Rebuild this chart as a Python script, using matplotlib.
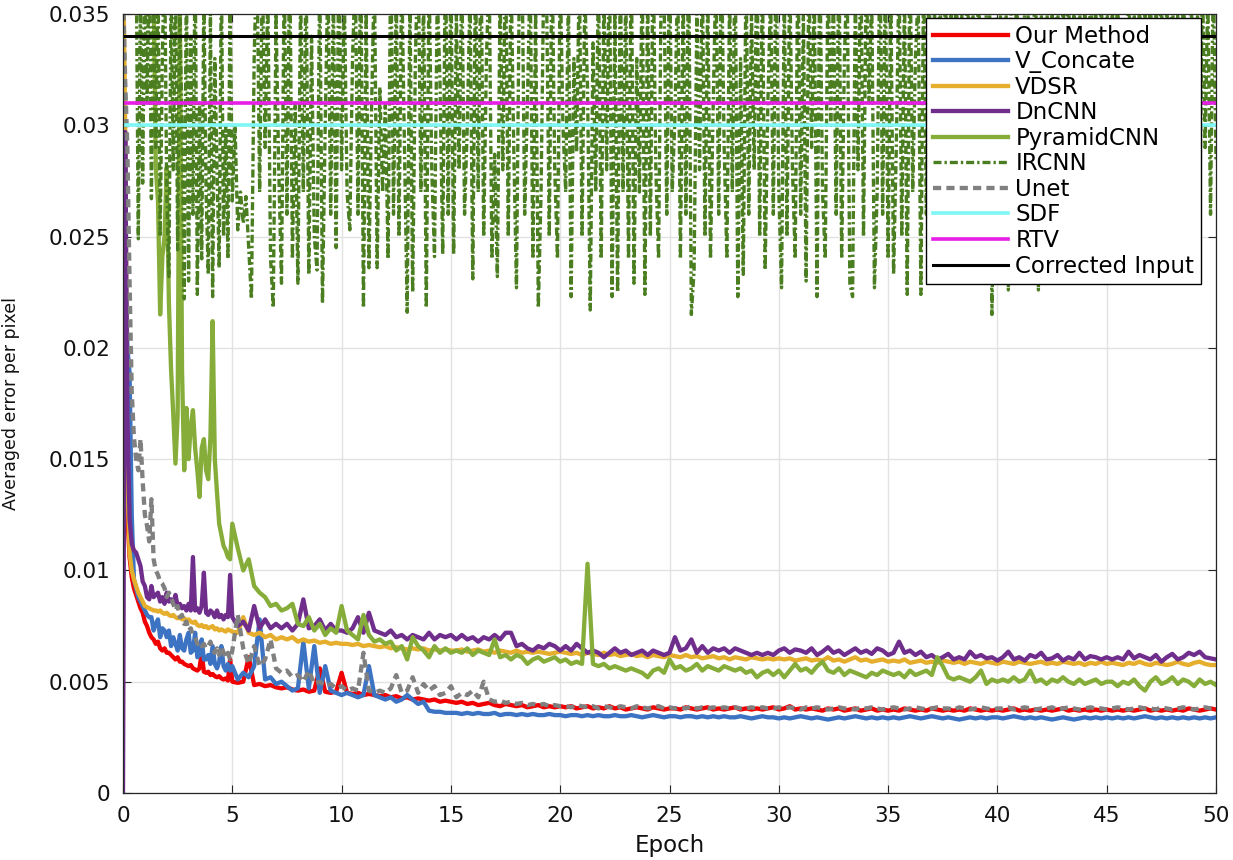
import numpy as np
import matplotlib
matplotlib.use("Agg")
import matplotlib.pyplot as plt

plt.rcParams['font.family'] = ['DejaVu Sans']

# ---------------- data ----------------
# epochs: fine sampling for the first 5 epochs, then every quarter epoch
epoch_fine = np.round(np.arange(0.0, 5.0001, 0.1), 2)
epoch_coarse = np.round(np.arange(5.25, 50.0001, 0.25), 2)
epochs = np.concatenate([epoch_fine, epoch_coarse])
# IRCNN is sampled more densely after epoch 5 (every eighth of an epoch)
ircnn_epochs = np.concatenate([epoch_fine, np.round(np.arange(5.125, 50.0001, 0.125), 3)])

# all error values below are given in units of 1e-3
UNIT = 1e-3

our_early = [28, 18, 12.5, 10.6, 9.7, 9.2, 8.9, 8.6, 8.3, 8.1,
             7.7, 7.5, 7.2, 7.0, 6.9, 6.7, 6.8, 6.5, 6.4, 6.5,
             6.3, 6.3, 6.2, 6.1, 6.0, 6.1, 5.9, 5.9, 5.8, 5.75,
             5.7, 5.75, 5.6, 5.55, 5.5, 5.6, 6.3, 5.45, 5.4, 5.45,
             5.3, 5.35, 5.25, 5.2, 5.25, 5.15, 5.1, 5.15, 5.05, 6.0,
             5.0]
our_late = [4.95, 5.0, 6.1, 4.85, 4.9, 4.8, 4.85, 4.75, 4.7, 4.75, 4.65, 4.6, 4.65, 4.55, 4.6, 5.6, 4.55, 4.5, 4.55, 5.4,
            4.5, 4.45, 4.5, 4.4, 4.45, 4.4, 4.35, 4.4, 4.3, 4.35, 4.25, 4.3, 4.2, 4.25, 4.2, 4.15, 4.2, 4.1, 4.15, 4.1,
            4.05, 4.1, 4.0, 4.05, 3.95, 4.0, 4.05, 3.95, 3.9, 4.0, 3.95, 3.9, 3.95, 3.85, 3.9, 3.95, 3.85, 3.9, 3.85, 3.9,
            3.85, 3.9, 3.8, 3.85, 3.9, 3.8, 3.85, 3.8, 3.9, 3.8, 3.85, 3.75, 3.8, 3.85, 3.8, 3.75, 3.85, 3.8, 3.75, 3.8,
            3.8, 3.75, 3.85, 3.8, 3.75, 3.8, 3.85, 3.75, 3.8, 3.75, 3.8, 3.85, 3.75, 3.8, 3.75, 3.8, 3.75, 3.8, 3.85, 3.75,
            3.8, 3.9, 3.75, 3.8, 3.75, 3.8, 3.75, 3.7, 3.8, 3.75, 3.8, 3.7, 3.75, 3.8, 3.7, 3.75, 3.8, 3.7, 3.75, 3.7,
            3.75, 3.7, 3.8, 3.75, 3.7, 3.75, 3.7, 3.8, 3.75, 3.7, 3.75, 3.7, 3.75, 3.7, 3.8, 3.75, 3.7, 3.75, 3.7, 3.75,
            3.7, 3.75, 3.8, 3.7, 3.75, 3.7, 3.75, 3.7, 3.75, 3.7, 3.75, 3.8, 3.7, 3.75, 3.7, 3.75, 3.7, 3.75, 3.7, 3.75,
            3.7, 3.75, 3.7, 3.75, 3.7, 3.75, 3.8, 3.7, 3.75, 3.7, 3.75, 3.7, 3.75, 3.7, 3.8, 3.75, 3.7, 3.75, 3.8, 3.75]

vconcate_early = [30, 24, 20, 18.9, 12.5, 9.6, 9.2, 8.8, 8.6, 8.4,
                  8.2, 8.0, 7.9, 7.9, 7.3, 7.6, 7.8, 7.0, 7.4, 7.3,
                  7.0, 7.3, 6.6, 7.0, 6.7, 6.4, 7.1, 6.5, 6.4, 6.9,
                  7.2, 6.3, 6.4, 7.2, 6.1, 6.2, 6.9, 6.0, 6.0, 6.2,
                  5.8, 6.6, 5.8, 5.6, 5.9, 6.6, 5.7, 5.5, 5.8, 5.5,
                  5.7]
vconcate_late = [5.1, 5.4, 5.2, 5.7, 7.8, 5.1, 5.2, 4.9, 5.0, 4.8, 4.6, 4.7, 6.8, 4.7, 6.6, 4.5, 5.7, 4.6, 4.5, 4.4,
                 4.5, 4.4, 4.3, 4.4, 5.7, 4.4, 4.3, 4.2, 4.3, 4.1, 4.2, 4.4, 4.2, 4.0, 4.1, 3.7, 3.65, 3.65, 3.6, 3.6,
                 3.6, 3.55, 3.6, 3.55, 3.6, 3.55, 3.55, 3.6, 3.5, 3.55, 3.55, 3.5, 3.55, 3.5, 3.55, 3.5, 3.5, 3.55, 3.5, 3.5,
                 3.45, 3.5, 3.5, 3.45, 3.5, 3.45, 3.5, 3.45, 3.45, 3.5, 3.45, 3.45, 3.5, 3.45, 3.4, 3.45, 3.5, 3.45, 3.4, 3.45,
                 3.45, 3.4, 3.45, 3.45, 3.4, 3.45, 3.4, 3.45, 3.4, 3.45, 3.4, 3.4, 3.45, 3.4, 3.35, 3.4, 3.45, 3.4, 3.4, 3.35,
                 3.4, 3.35, 3.4, 3.45, 3.4, 3.35, 3.4, 3.35, 3.3, 3.35, 3.4, 3.35, 3.4, 3.45, 3.4, 3.35, 3.4, 3.35, 3.4, 3.35,
                 3.4, 3.35, 3.4, 3.45, 3.4, 3.35, 3.4, 3.45, 3.4, 3.35, 3.4, 3.35, 3.3, 3.35, 3.4, 3.35, 3.4, 3.35, 3.4, 3.4,
                 3.35, 3.4, 3.45, 3.4, 3.35, 3.4, 3.35, 3.4, 3.35, 3.3, 3.35, 3.4, 3.35, 3.3, 3.35, 3.4, 3.35, 3.4, 3.35, 3.4,
                 3.35, 3.4, 3.35, 3.4, 3.35, 3.4, 3.45, 3.4, 3.35, 3.4, 3.35, 3.4, 3.35, 3.4, 3.35, 3.4, 3.35, 3.4, 3.35, 3.4]

vdsr_early = [38, 30, 14, 10.8, 10.0, 9.6, 9.3, 9.0, 8.8, 8.6,
              8.4, 8.35, 8.3, 8.25, 8.2, 8.2, 8.15, 8.2, 8.1, 8.05,
              8.1, 8.0, 7.95, 8.0, 7.9, 7.85, 7.9, 7.8, 7.85, 7.75,
              7.8, 7.7, 7.65, 7.7, 7.55, 7.5, 7.55, 7.45, 7.5, 7.4,
              7.45, 7.5, 7.35, 7.4, 7.3, 7.35, 7.3, 7.25, 7.35, 7.3,
              7.25]
vdsr_late = [7.2, 7.9, 7.2, 7.1, 7.2, 7.0, 7.1, 6.9, 7.0, 6.9, 7.0, 6.8, 6.9, 6.8, 6.85, 6.75, 6.8, 6.7, 6.75, 6.7,
             6.7, 6.65, 6.7, 6.6, 6.65, 6.6, 6.55, 6.6, 6.5, 6.55, 6.5, 6.45, 6.5, 6.45, 6.5, 6.4, 6.45, 6.4, 6.45, 6.4,
             6.4, 6.45, 6.35, 6.4, 6.45, 6.35, 6.4, 6.3, 6.4, 6.35, 6.3, 6.4, 6.3, 6.35, 6.3, 6.35, 6.3, 6.25, 6.3, 6.35,
             6.3, 6.25, 6.3, 6.2, 6.3, 6.25, 6.2, 6.3, 6.2, 6.25, 6.15, 6.2, 6.25, 6.15, 6.2, 6.1, 6.2, 6.15, 6.1, 6.2,
             6.15, 6.1, 6.2, 6.1, 6.15, 6.05, 6.1, 6.15, 6.05, 6.1, 6.0, 6.1, 6.05, 6.0, 6.1, 6.05, 6.0, 6.05, 6.0, 6.05,
             6.0, 6.05, 5.95, 6.0, 6.05, 5.95, 6.0, 5.95, 6.1, 5.95, 6.0, 5.9, 6.0, 6.1, 5.95, 6.0, 5.9, 5.95, 6.0, 5.9,
             5.95, 5.9, 6.0, 5.85, 5.9, 5.95, 5.85, 5.9, 5.85, 5.95, 5.9, 5.85, 5.9, 5.8, 5.9, 5.85, 5.8, 5.9, 5.85, 5.8,
             5.9, 5.85, 5.8, 5.9, 5.85, 5.8, 5.85, 5.9, 5.8, 5.85, 5.8, 5.9, 5.85, 5.8, 5.85, 5.75, 5.85, 5.8, 5.9, 5.8,
             5.85, 5.8, 5.75, 5.85, 5.8, 5.9, 5.8, 5.75, 5.85, 5.8, 5.75, 5.8, 5.9, 5.8, 5.75, 5.85, 5.9, 5.8, 5.75, 5.75]

dncnn_early = [0.0, 29.7, 17, 12.3, 11.2, 10.9, 10.8, 10.5, 10.2, 9.5,
               9.3, 8.8, 8.7, 9.3, 8.8, 8.9, 9.0, 8.6, 8.8, 8.5,
               9.0, 8.6, 8.7, 8.5, 8.9, 8.4, 8.5, 8.3, 8.4, 8.2,
               8.5, 8.2, 10.6, 8.2, 8.3, 8.1, 8.4, 9.9, 8.1, 8.0,
               8.2, 8.1, 7.9, 8.2, 7.9, 8.0, 7.8, 8.0, 7.9, 9.8,
               7.9]
dncnn_late = [7.5, 7.7, 7.3, 8.4, 7.4, 7.8, 7.4, 7.6, 7.4, 7.6, 7.3, 7.6, 8.7, 7.4, 7.5, 7.8, 7.3, 7.6, 7.3, 7.3,
              7.2, 7.4, 7.9, 7.2, 8.1, 7.3, 7.2, 7.1, 7.3, 7.0, 7.1, 6.9, 7.1, 7.0, 6.9, 7.2, 6.9, 7.1, 7.0, 7.1,
              6.9, 7.1, 6.9, 7.0, 6.8, 7.0, 6.9, 7.1, 6.9, 7.2, 7.2, 6.6, 6.7, 6.5, 6.4, 6.6, 6.5, 6.7, 6.6, 6.4,
              6.6, 6.4, 6.7, 6.5, 6.3, 6.4, 6.3, 6.1, 6.3, 6.5, 6.3, 6.4, 6.2, 6.3, 6.4, 6.2, 6.4, 6.3, 6.2, 6.3,
              7.0, 6.4, 6.5, 6.9, 6.3, 6.6, 6.3, 6.5, 6.4, 6.5, 6.3, 6.5, 6.4, 6.3, 6.2, 6.3, 6.2, 6.3, 6.2, 6.4,
              6.5, 6.3, 6.45, 6.4, 6.3, 6.5, 6.2, 6.35, 6.55, 6.3, 6.4, 6.2, 6.35, 6.5, 6.3, 6.4, 6.25, 6.5, 6.4, 6.2,
              6.3, 6.8, 6.3, 6.4, 6.2, 6.35, 6.1, 6.2, 6.0, 6.1, 6.25, 6.0, 6.1, 6.0, 6.35, 6.1, 6.2, 6.05, 6.1, 5.95,
              6.1, 6.35, 6.0, 6.1, 5.95, 6.2, 6.1, 6.3, 6.0, 6.05, 6.2, 5.95, 6.1, 6.0, 6.3, 6.0, 6.15, 6.1, 6.0, 6.1,
              6.0, 6.1, 6.0, 6.35, 6.05, 6.2, 6.1, 6.0, 6.2, 5.9, 6.1, 6.25, 6.0, 6.1, 6.3, 6.2, 6.35, 6.1, 6.05, 6.0]

pyramid_early = [45, 44, 43, 42, 41, 40, 40, 39, 39, 38,
                 38, 37, 37, 36, 36, 28.1, 26.6, 21.5, 24.1, 25.0,
                 28.1, 22.0, 19.0, 17.0, 14.8, 17.0, 35.5, 19.0, 14.5, 17.3,
                 15.0, 16.5, 17.2, 15.5, 14.5, 13.3, 15.5, 15.9, 14.5, 14.1,
                 16.0, 21.2, 15.0, 13.5, 12.1, 11.6, 11.1, 10.9, 10.6, 10.5,
                 12.1]
pyramid_late = [11.0, 10.0, 10.5, 9.3, 9.0, 8.8, 8.4, 8.5, 8.2, 8.3, 8.5, 7.6, 7.5, 7.9, 7.3, 7.6, 7.1, 7.4, 7.2, 8.4,
                7.3, 7.1, 6.9, 8.0, 7.1, 6.8, 6.9, 6.7, 6.8, 6.4, 6.6, 6.0, 7.0, 6.6, 6.4, 6.1, 6.6, 6.3, 6.5, 6.3,
                6.4, 6.3, 6.5, 6.2, 6.4, 6.3, 6.2, 6.9, 6.1, 6.2, 6.0, 6.2, 6.1, 5.8, 6.0, 6.1, 5.9, 6.0, 6.1, 5.9,
                6.0, 5.8, 5.9, 5.8, 10.3, 5.8, 5.7, 5.8, 5.6, 5.7, 5.6, 5.5, 5.6, 5.5, 5.4, 5.2, 5.5, 5.6, 5.4, 6.0,
                5.6, 5.7, 5.5, 5.6, 5.8, 5.5, 5.7, 5.6, 5.5, 5.7, 5.6, 5.5, 5.6, 5.4, 5.5, 5.2, 5.4, 5.5, 5.3, 5.5,
                5.2, 5.5, 5.8, 5.5, 5.6, 5.4, 5.7, 5.9, 5.5, 5.4, 5.6, 5.3, 5.5, 5.4, 5.3, 5.2, 5.4, 5.3, 5.5, 5.4,
                5.3, 5.4, 5.2, 5.5, 5.3, 5.4, 5.5, 5.3, 6.1, 5.7, 5.2, 5.1, 5.2, 5.1, 5.0, 5.2, 5.5, 4.9, 5.1, 5.0,
                5.1, 5.0, 5.2, 5.0, 5.1, 5.5, 5.0, 5.1, 4.9, 5.1, 5.0, 5.2, 5.0, 4.9, 5.1, 4.9, 5.0, 5.1, 4.9, 5.0,
                5.0, 4.8, 5.0, 4.9, 5.1, 4.8, 4.6, 5.0, 5.2, 4.9, 5.0, 5.2, 4.9, 5.1, 5.0, 4.8, 5.1, 4.9, 5.0, 4.85]

ircnn_early = [40, 40, 40, 40, 40, 40, 38, 24.9, 36, 27.4,
               37, 31, 38, 26.7, 36, 29, 37, 25.0, 33, 38,
               27, 23.2, 36, 28, 37, 24.4, 35, 30, 22.2, 37,
               23.0, 34, 26, 38, 22.4, 31, 24, 36, 27, 23.3,
               35, 22.3, 33, 28, 23.6, 37, 25, 30, 24, 36,
               26.6]
ircnn_late = [30, 25.3, 27, 25.6, 26.8, 24.5, 22.2, 33, 38, 27, 37, 29, 36, 24, 21.8, 35, 28, 22.9, 37, 26,
              38, 24, 31, 22.9, 36, 27, 37, 23.3, 34, 25, 23.5, 37, 22.0, 30, 37, 26, 36, 24.5, 38, 28,
              36, 27, 25.3, 33, 37, 26, 38, 21.8, 35, 23.6, 31, 37, 23.6, 31.7, 27, 30.9, 24, 38, 26, 36,
              25, 37, 29, 21.6, 36, 22.5, 33, 38, 27, 36, 21.8, 37, 28, 24.1, 36, 32, 24.2, 38, 26, 37,
              24.2, 35, 28, 37, 26, 30, 36, 23.1, 37, 27, 38, 25, 33, 37, 24, 28.7, 23.2, 36, 28, 38,
              25, 37, 29, 22.7, 36, 38, 26, 31, 37, 24, 35, 21.8, 27, 37, 36, 25, 38, 28, 24, 37,
              30, 27, 36, 22.3, 33, 28.8, 37, 25, 36, 31.7, 21.7, 33.7, 27, 37, 24, 36, 28, 38, 22.3, 35,
              22.5, 37, 27, 36, 24, 38, 22.9, 33, 27, 37, 22.4, 36, 25, 38, 28, 24, 37, 36, 26, 38,
              27, 30.4, 37, 24, 36, 26, 38, 21.5, 23.5, 35, 28, 37, 25, 36, 24, 31, 37, 26, 38, 29,
              24, 36, 27, 38, 22.3, 33, 23.3, 37, 26, 35, 28, 38, 25, 37, 23.5, 31, 36, 26, 38, 27,
              22.7, 36, 25, 37, 28, 24, 38, 26, 35, 23, 37, 29, 36, 22.3, 38, 27, 24, 37, 30, 36,
              26, 38, 24, 33, 37, 22.9, 22.3, 36, 28, 38, 25, 37, 31, 36, 22.7, 27, 38, 26, 37, 24,
              36, 23.3, 29, 37, 25, 36, 22.4, 38, 27, 33, 36, 22.4, 37, 26, 38, 24, 35, 28, 37, 25,
              38, 24, 36, 30, 37, 26, 35, 23.5, 38, 28, 36, 25, 37, 31, 24, 36, 38, 21.5, 30, 37,
              36, 27, 38, 22.6, 35, 26, 37, 29, 24, 36, 38, 25, 33, 37, 22.6, 36, 27, 38, 24, 36,
              28, 37, 25, 36, 31, 38, 24, 35, 27, 37, 26, 36, 23, 38, 29, 36, 25, 37, 27, 38,
              24, 36, 29, 37, 26, 33, 23.7, 38, 27, 36, 23.8, 37, 25, 35, 28, 38, 24, 36, 31, 37,
              25, 36, 28, 38, 26, 35, 24, 37, 31, 22.8, 36, 27, 38, 25, 37, 29, 36, 26, 37, 28.4]

unet_early = [36, 32, 29, 23, 18, 16, 15, 14.5, 15.9, 14,
              12.5, 12.0, 11.3, 13.2, 10.5, 10.0, 9.8, 9.5, 9.4, 9.2,
              8.8, 9.0, 8.8, 8.5, 8.2, 8.4, 7.9, 8.0, 7.6, 7.7,
              7.3, 7.4, 7.1, 7.0, 6.7, 6.8, 6.6, 6.7, 6.5, 6.6,
              6.8, 6.4, 6.3, 6.5, 6.2, 6.6, 6.3, 6.1, 6.3, 6.0,
              6.4]
unet_late = [8.0, 6.5, 5.8, 6.6, 5.7, 6.0, 6.9, 5.6, 5.4, 5.5, 5.2, 5.3, 5.0, 5.5, 4.9, 5.0, 4.8, 4.9, 4.7, 4.8,
             4.6, 4.7, 4.6, 6.3, 4.6, 4.5, 4.6, 4.5, 4.7, 5.3, 4.5, 4.6, 5.2, 4.5, 4.9, 4.6, 4.8, 4.4, 4.5, 4.8,
             4.3, 4.5, 4.4, 4.6, 4.3, 5.0, 4.2, 4.1, 4.15, 4.05, 4.1, 4.0, 4.05, 3.95, 4.0, 3.95, 4.0, 3.9, 3.95, 3.9,
             3.9, 3.85, 3.95, 3.9, 3.85, 3.9, 3.8, 3.9, 3.85, 3.8, 3.9, 3.85, 3.8, 3.9, 3.85, 3.8, 3.85, 3.9, 3.8, 3.85,
             3.8, 3.85, 3.8, 3.9, 3.8, 3.85, 3.8, 3.85, 3.8, 3.85, 3.8, 3.85, 3.8, 3.8, 3.85, 3.8, 3.85, 3.8, 3.8, 3.85,
             3.8, 3.85, 3.8, 3.75, 3.85, 3.8, 3.85, 3.8, 3.75, 3.8, 3.85, 3.8, 3.8, 3.75, 3.85, 3.8, 3.85, 3.8, 3.75, 3.8,
             3.85, 3.8, 3.75, 3.8, 3.85, 3.8, 3.75, 3.8, 3.85, 3.8, 3.8, 3.75, 3.85, 3.8, 3.75, 3.8, 3.85, 3.8, 3.75, 3.8,
             3.8, 3.85, 3.75, 3.8, 3.85, 3.8, 3.75, 3.8, 3.8, 3.85, 3.75, 3.8, 3.85, 3.8, 3.75, 3.8, 3.85, 3.8, 3.8, 3.75,
             3.8, 3.85, 3.8, 3.75, 3.8, 3.85, 3.8, 3.8, 3.75, 3.85, 3.8, 3.75, 3.8, 3.85, 3.8, 3.75, 3.8, 3.85, 3.8, 3.8]

# constant baselines (absolute values)
sdf_level = 0.030
rtv_level = 0.031
corrected_level = 0.034

y_ticks = [0, 0.005, 0.01, 0.015, 0.02, 0.025, 0.03, 0.035]
y_tick_labels = ['0', '0.005', '0.01', '0.015', '0.02', '0.025', '0.03', '0.035']
x_ticks = [0, 5, 10, 15, 20, 25, 30, 35, 40, 45, 50]

series = [
    ("Our Method", epochs, our_early + our_late, '#F00000', '-'),
    ("V_Concate", epochs, vconcate_early + vconcate_late, '#3C73C3', '-'),
    ("VDSR", epochs, vdsr_early + vdsr_late, '#E5AE2D', '-'),
    ("DnCNN", epochs, dncnn_early + dncnn_late, '#6F2E8B', '-'),
    ("PyramidCNN", epochs, pyramid_early + pyramid_late, '#86AD3A', '-'),
    ("IRCNN", ircnn_epochs, ircnn_early + ircnn_late, '#4A7E20', 'dashdot'),
    ("Unet", epochs, unet_early + unet_late, '#808080', 'dashed'),
]

# ---------------- figure ----------------
W, H = 1233, 860
fig = plt.figure(figsize=(W / 100, H / 100), dpi=100)
ax = fig.add_axes([123 / W, 1 - 793 / H, (1216 - 123) / W, (793 - 14) / H])

for name, xs, vals, color, style in series:
    y = np.asarray(vals, dtype=float) * UNIT
    if style == 'dashdot':
        ax.plot(xs, y, color=color, lw=2.4, label=name,
                dashes=(2.4, 0.9, 0.7, 0.9))
    elif style == 'dashed':
        ax.plot(xs, y, color=color, lw=3.1, label=name,
                dashes=(1.9, 1.2))
    else:
        ax.plot(xs, y, color=color, lw=3.1, label=name)

ax.axhline(sdf_level, color='#80F7F7', lw=2.6, label='SDF')
ax.axhline(rtv_level, color='#E61EE6', lw=2.6, label='RTV')
ax.axhline(corrected_level, color='#000000', lw=2.2, label='Corrected Input')

ax.set_xlim(0, 50)
ax.set_ylim(0, 0.035)
ax.set_xticks(x_ticks)
ax.set_yticks(y_ticks)
ax.set_yticklabels(y_tick_labels)

ax.grid(True, color='#e2e2e2', lw=1.0)
ax.set_axisbelow(True)
for sp in ax.spines.values():
    sp.set_color('#262626')
    sp.set_linewidth(0.9)
ax.tick_params(direction='in', length=6, width=0.8, top=True, right=True,
               labelsize=15.5, colors='#262626', labelcolor='#111111')
ax.tick_params(axis='x', pad=9)
ax.tick_params(axis='y', pad=9)

ax.set_xlabel('Epoch', fontsize=16.5, color='#111111')
ax.xaxis.set_label_coords(0.5, -0.052)
ax.xaxis.label.set_va('top')
ax.set_ylabel('Averaged error per pixel', fontsize=12.5, color='#111111')
ax.yaxis.set_label_coords(-0.094, 0.5)

leg = ax.legend(loc='upper right', bbox_to_anchor=(0.9863, 0.9949),
                borderaxespad=0, fontsize=16.5, frameon=True, fancybox=False,
                edgecolor='black', framealpha=1, handlelength=3.3,
                handletextpad=0.3, labelspacing=0.11, borderpad=0.3)
leg.get_frame().set_linewidth(1.0)

fig.savefig('out.png', dpi=100)
